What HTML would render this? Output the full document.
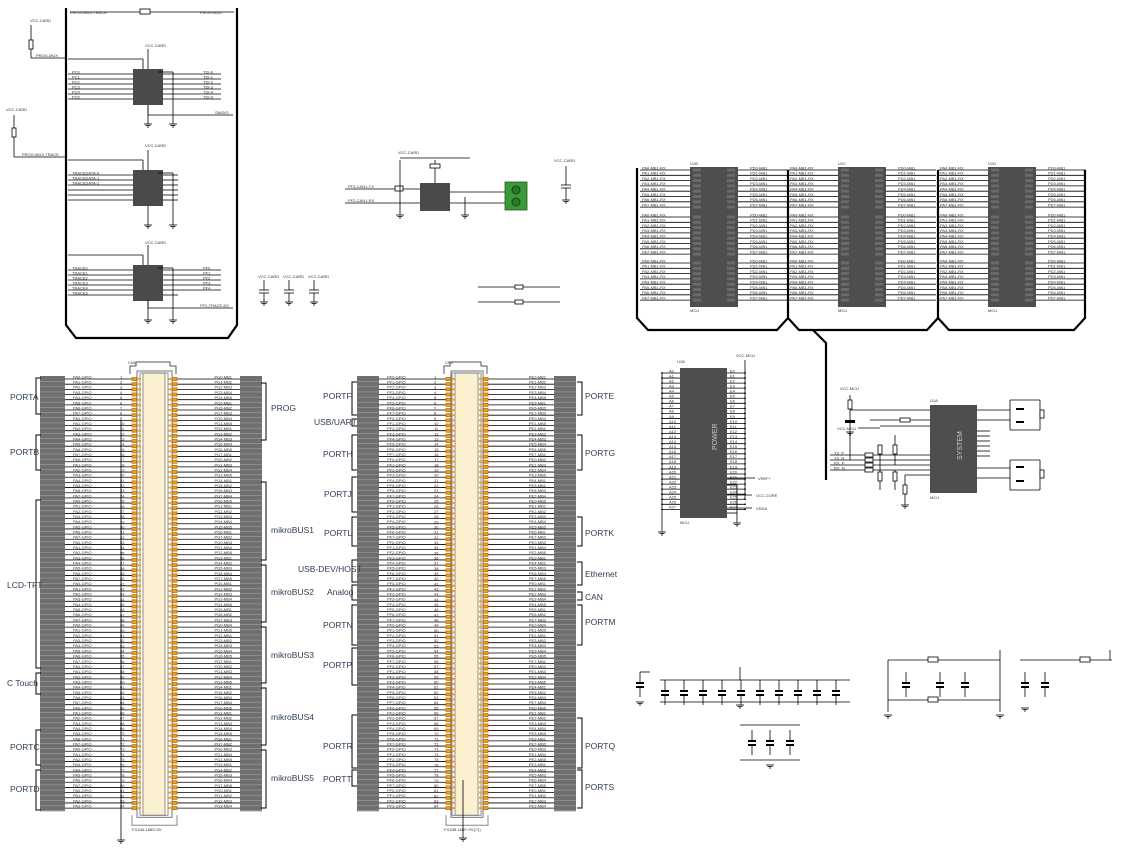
<!DOCTYPE html>
<html><head><meta charset="utf-8"><style>
html,body{margin:0;padding:0;background:#fff;width:1123px;height:851px;overflow:hidden}
svg{display:block}
text{font-family:"Liberation Sans",sans-serif}
.lb{font-size:8.5px;fill:#2e3c52}
.sm{font-size:4px;fill:#333}
</style></head><body>
<svg id="s" width="1123" height="851" viewBox="0 0 1123 851" xmlns="http://www.w3.org/2000/svg">
<g id="g"></g>
<!-- CN1 labels -->
<text class="lb" x="10" y="400">PORTA</text>
<text class="lb" x="10" y="455">PORTB</text>
<text class="lb" x="7" y="588">LCD-TFT</text>
<text class="lb" x="7" y="686">C Touch</text>
<text class="lb" x="10" y="750">PORTC</text>
<text class="lb" x="10" y="792">PORTD</text>
<text class="lb" x="271" y="411">PROG</text>
<text class="lb" x="271" y="533">mikroBUS1</text>
<text class="lb" x="271" y="595">mikroBUS2</text>
<text class="lb" x="271" y="658">mikroBUS3</text>
<text class="lb" x="271" y="720">mikroBUS4</text>
<text class="lb" x="271" y="781">mikroBUS5</text>
<!-- CN2 labels -->
<text class="lb" x="323" y="399">PORTF</text>
<text class="lb" x="314" y="425">USB/UART</text>
<text class="lb" x="323" y="457">PORTH</text>
<text class="lb" x="324" y="497">PORTJ</text>
<text class="lb" x="324" y="536">PORTL</text>
<text class="lb" x="298" y="572">USB-DEV/HOST</text>
<text class="lb" x="327" y="595">Analog</text>
<text class="lb" x="323" y="628">PORTN</text>
<text class="lb" x="323" y="668">PORTP</text>
<text class="lb" x="323" y="749">PORTR</text>
<text class="lb" x="323" y="782">PORTT</text>
<text class="lb" x="585" y="399">PORTE</text>
<text class="lb" x="585" y="456">PORTG</text>
<text class="lb" x="585" y="536">PORTK</text>
<text class="lb" x="585" y="577">Ethernet</text>
<text class="lb" x="585" y="600">CAN</text>
<text class="lb" x="585" y="625">PORTM</text>
<text class="lb" x="585" y="749">PORTQ</text>
<text class="lb" x="585" y="790">PORTS</text>
<text class="sm" x="128" y="364">CN1</text>
<text class="sm" x="445" y="364">CN2</text>
<text class="sm" x="132" y="831">FX10A-168S-SV</text>
<text class="sm" x="444" y="831">FX10B-168P-SV(71)</text>
<text class="sm" x="70" y="14">PROG-MUX-TRACE</text>
<text class="sm" x="200" y="14">PROG-MUX</text>
<text class="sm" x="30" y="22">VCC-CARD</text>
<text class="sm" x="6" y="111">VCC-CARD</text>
<text class="sm" x="145" y="47">VCC-CARD</text>
<text class="sm" x="145" y="147">VCC-CARD</text>
<text class="sm" x="145" y="244">VCC-CARD</text>
<text class="sm" x="398" y="154">VCC-CARD</text>
<text class="sm" x="554" y="162">VCC-CARD</text>
<text class="sm" x="736" y="357">VCC-MCU</text>
<text class="sm" x="840" y="390">VCC-MCU</text>
<text class="sm" x="677" y="363">U1B</text>
<text class="sm" x="930" y="402">U1A</text>
<text class="sm" x="930" y="499">MCU</text>
<text class="sm" x="680" y="524">MCU</text>
<text x="717" y="450" font-size="7" fill="#ccc" transform="rotate(-90 717 450)">POWER</text>
<text x="962" y="460" font-size="7" fill="#ccc" transform="rotate(-90 962 460)">SYSTEM</text>
</svg>
<script>
var g=document.getElementById('g'),NS='http://www.w3.org/2000/svg',H='';
function L(a,b,c,d,w,col){H+='<line x1="'+a+'" y1="'+b+'" x2="'+c+'" y2="'+d+'" stroke="'+(col||'#000')+'" stroke-width="'+(w||0.8)+'"/>';}
function R(x,y,w,h,f,s){H+='<rect x="'+x+'" y="'+y+'" width="'+w+'" height="'+h+'" fill="'+f+'"'+(s?' stroke="'+s+'" stroke-width="0.8"':'')+'/>';}
function P(d,w,col){H+='<path d="'+d+'" fill="none" stroke="'+(col||'#000')+'" stroke-width="'+(w||0.8)+'"/>';}
function T(x,y,s,anchor){H+='<text class="sm" x="'+x+'" y="'+y+'"'+(anchor?' text-anchor="end"':'')+'>'+s+'</text>';}
function gnd(x,y){L(x-4,y,x+4,y,0.8);L(x-2.5,y+1.5,x+2.5,y+1.5,0.8);L(x-1,y+3,x+1,y+3,0.8);}
var Y0=379,ST=5.17,N=84;
function conn(g1,g2,l2,pinL,inL,inR,pinR,r2,g3,g4,pfx){
 R(g1,Y0-3,g2-g1,N*ST+1,'#6f6f6f');R(g3,Y0-3,g4-g3,N*ST+1,'#6f6f6f');
 for(var i=0;i<N;i++){var y=Y0+i*ST;
  L(g1,y+2.6,g2,y+2.6,0.5,'#aaa');L(g3,y+2.6,g4,y+2.6,0.5,'#aaa');
  L(g2,y,pinL,y,0.8);L(pinR+5,y,g4-(g4-g3),y,0.8);
  R(pinL,y-1.5,5,3,'#f0a020','#c07000');R(pinR,y-1.5,5,3,'#f0a020','#c07000');
  R(pinL+7,y-1,3,2,'#f0a020');R(inR+1.5,y-1,3,2,'#f0a020');
  T(g2+8,y-0.6,pfx[0]+(i%8)+'-GPIO');T(g3-8,y-0.6,pfx[1]+(i%8)+'-MB'+(1+i%5),1);
  T(pinL-12,y-0.5,(i+1));
 }
 R(pinL+5,Y0-8,pinR-pinL-5,N*ST+12,'#fff','#555');
 R(inL,Y0-6,inR-inL,N*ST+8,'#fbf0cf','#777');
 R(inL-3,Y0-6,inR-inL+6,N*ST+8,'none','#777');
 for(var i=0;i<N;i++){var y=Y0+i*ST;R(pinL+6,y-1,3,2,'#f0a020');R(pinR-4,y-1,3,2,'#f0a020');}
 P('M'+(pinL-2)+' '+(Y0-5)+' v-8 h6 v-4 h'+(pinR-pinL-6)+' v4 h6 v8',1,'#555');
 P('M'+(pinL)+' '+(Y0+N*ST+2)+' v10 h'+(pinR-pinL+5)+' v-10',1,'#888');
}
conn(40,65,0,132,143,165,172,0,240,262,['PA','PG']);
conn(357,379,0,446,455,478,483,0,554,576,['PF','PE']);
gnd(121,840);L(121,420,121,840,0.8);gnd(463,838);L(463,780,463,838,0.8);
// brackets
function br(x,y1,y2,dir){P('M'+(x+dir*5)+' '+y1+' h'+(-dir*5)+' V'+y2+' h'+(dir*5),1);}
[[378,414],[435,470],[500,668],[673,694],[730,765],[770,810]].forEach(function(b){br(36,b[0],b[1],1)});
[[383,440],[482,560],[565,622],[627,683],[688,745],[750,808]].forEach(function(b){br(266,b[0],b[1],-1)});
[[382,415],[419,426],[435,470],[477,512],[517,546],[560,582],[585,600],[605,645],[648,685],[715,768],[770,786]].forEach(function(b){br(352,b[0],b[1],1)});
[[382,415],[435,470],[517,546],[562,585],[592,600],[605,645],[718,768],[770,808]].forEach(function(b){br(582,b[0],b[1],-1)});
// top-left bracket
P('M66 8 V325 L76 338 H228 L237 325 V8',2.2);
L(70,12,140,12);L(150,12,234,12);R(140,9,10,5,'#fff','#000');
// resistors
L(31,25,31,40);R(29,40,4,9,'#fff','#000');L(31,49,31,58);L(31,58,66,58);T(36,57,'PROG-MUX');
L(14,115,14,128);R(12,128,4,9,'#fff','#000');L(14,137,14,157);L(14,157,66,157);T(22,156,'PROG-MUX-TRACE');
function ic(x,y,inN,outN,lab){
 R(x,y,30,36,'#4a4a4a');L(x+15,y-20,x+15,y);L(x+15,y+36,x+15,y+55);gnd(x+15,y+55);
 L(x+25,y+3,x+40,y+3);L(x+40,y+3,x+40,y+55);gnd(x+40,y+55);
 for(var i=0;i<6;i++){var yy=y+5+i*5;L(68,yy,x,yy);if(i<inN)T(72,yy-0.7,lab[0]+i);
  L(x+30,yy,x+(i<outN?88:45),yy);if(i<outN)T(x+70,yy-0.7,lab[1]+i);}
 L(68,y-10,x+10,y-10);L(x+10,y-10,x+10,y);
}
ic(133,69,6,6,['PC','TDI-']);L(148,105,148,115);L(148,115,233,115);T(215,114,'SWDIO');
ic(133,170,3,0,['TRACEDATA-','P']);
ic(133,265,6,5,['TRACE','PF']);L(148,300,148,308);L(148,308,233,308);T(200,307,'PF2-TRACE-D0');
// CAN
R(420,183,30,28,'#4a4a4a');L(435,160,435,183);L(400,158,470,158);R(430,164,10,4,'#fff','#000');
L(345,189,395,189);L(345,203,420,203);R(395,186,8,5,'#fff','#000');L(403,189,420,189);
T(348,188,'PF3-CAN1-TX');T(348,202,'PF2-CAN1-RX');
L(450,192,505,192);L(450,203,505,203);R(505,182,22,28,'#3a9a3a','#1d5d1d');
H+='<circle cx="516" cy="190" r="4" fill="#2a7a2a" stroke="#114411"/><circle cx="516" cy="202" r="4" fill="#2a7a2a" stroke="#114411"/>';
L(400,160,400,215);gnd(400,215);L(465,197,465,215);gnd(465,215);
L(566,166,566,185);L(561,185,571,185);L(561,188,571,188);L(566,188,566,200);gnd(566,200);
[264,289,314].forEach(function(x){L(x,280,x,290);L(x-5,290,x+5,290);L(x-5,293,x+5,293);L(x,293,x,302);gnd(x,302);T(x-6,278,'VCC-CARD');});
L(478,287,518,287);L(520,287,560,287);R(515,285,8,4,'#fff','#000');L(478,302,518,302);L(520,302,560,302);R(515,300,8,4,'#fff','#000');
// MCU blocks top right
function mcu(x){R(x,167,48,140,'#4e4e4e');
 var groups=[170,217,263];
 groups.forEach(function(gy){for(var i=0;i<8;i++){var y=gy+i*5.3;L(x-50,y,x,y);L(x+48,y,x+98,y);
  R(x+3,y-1.5,8,3,'#6a6a6a');R(x+37,y-1.5,8,3,'#6a6a6a');
  T(x-48,y-0.7,'PA'+i+'-MB1-RX');T(x+60,y-0.7,'PD'+i+'-MB1');}});
}
mcu(690);mcu(838);mcu(988);
P('M637 168 V318 L648 330 H777 L788 318 V170',2.2);
P('M788 318 L799 330 H927 L938 318 V170',2.2);
P('M938 318 L949 330 H1074 L1085 318 V170',2.2);
P('M813 330 L826 343 V480',2.2);
T(690,312,'MCU');T(838,312,'MCU');T(988,312,'MCU');
T(690,165,'U1B');T(838,165,'U1C');T(988,165,'U1D');
// power block
R(680,368,47,150,'#4e4e4e');L(745,360,745,500);
for(var i=0;i<28;i++){var y=373+i*5.05;L(662,y,680,y);L(727,y,745,y);T(669,y-0.7,'A'+i);T(730,y-0.7,'E'+i);H+='<circle cx="662" cy="'+y+'" r="0.9"/><circle cx="745" cy="'+y+'" r="0.9"/>';}
L(662,373,662,532);gnd(662,532);
L(727,478,755,478);T(758,480,'VREF+');L(727,485,737,485);L(737,485,737,523);gnd(737,523);
L(727,495,752,495);T(756,497,'VCC-CORE');L(727,508,752,508);T(756,510,'VDDA');L(727,513,737,513);
// system block
R(930,405,47,88,'#4e4e4e');
L(850,395,850,460);R(848,400,4,9,'#fff','#000');L(850,410,930,410);R(845,420,10,3,'#000');gnd(850,432);
L(870,420,930,420);L(880,426,930,426);R(900,418,10,4,'#fff','#000');L(858,428,880,428);T(856,430,'VCC-MCU',1);
L(895,435,895,465);L(880,445,880,465);R(878,445,4,9,'#fff','#000');R(893,445,4,9,'#fff','#000');
for(var i=0;i<4;i++){var y=455+i*5;L(830,y,930,y);R(865,y-2,8,4,'#fff','#000');T(834,y-0.7,['TX_P','TX_N','RX_P','RX_N'][i]);}
L(880,465,880,490);L(895,470,895,490);R(878,472,4,9,'#fff','#000');R(893,472,4,9,'#fff','#000');
L(905,475,930,475);L(905,475,905,505);R(903,485,4,9,'#fff','#000');gnd(905,505);
L(977,410,1010,410);L(977,420,1010,420);L(1010,400,1010,430);L(1010,400,1040,400);L(1010,430,1040,430);L(1040,400,1040,430);R(1040,410,4,8,'#fff','#000');
R(1016,408,8,2,'#000');R(1016,421,8,2,'#000');
for(var i=0;i<6;i++){L(977,431+i*5,990,431+i*5);}
L(977,468,1010,468);L(977,478,1010,478);L(1010,460,1010,490);L(1010,460,1040,460);L(1010,490,1040,490);L(1040,460,1040,490);R(1040,470,4,8,'#fff','#000');
R(1016,466,8,2,'#000');R(1016,480,8,2,'#000');
// bottom right caps
function cap(x,y){L(x,y,x,y+10);R(x-4,y+10,8,2,'#000');R(x-4,y+14,8,2,'#000');L(x,y+16,x,y+25);}
cap(640,672);gnd(640,702);L(640,672,650,672);
L(660,680,850,680);L(660,702,850,702);for(var i=0;i<10;i++)cap(665+i*19,680);gnd(740,705);L(740,667,740,680);
L(740,725,800,725);L(740,760,800,760);cap(752,730);cap(770,730);cap(790,730);gnd(770,765);
L(888,660,888,712);L(888,660,1000,660);L(888,700,1000,700);cap(906,672);cap(940,672);cap(965,672);R(928,657,10,5,'#fff','#000');R(928,697,10,5,'#fff','#000');gnd(888,715);gnd(1000,715);L(1000,650,1000,712);
L(1020,660,1112,660);cap(1025,672);cap(1045,672);R(1080,657,10,5,'#fff','#000');gnd(1025,708);L(1110,650,1110,660);
g.innerHTML=H;
</script>
</body></html>
